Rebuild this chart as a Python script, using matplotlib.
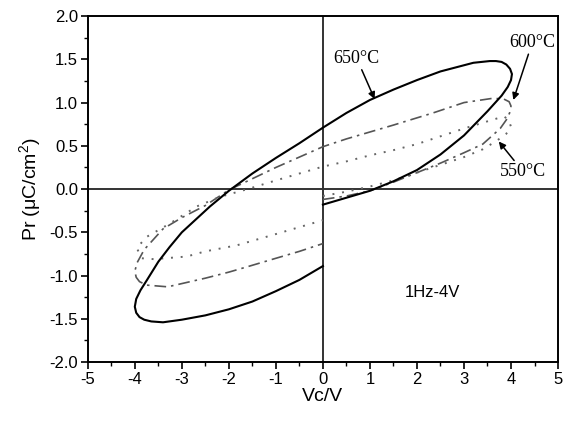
import matplotlib
matplotlib.use("Agg")
import matplotlib.pyplot as plt

# P-E loops (Vc in V, Pr in uC/cm2)
v650 = [0, 0.5, 1.0, 1.5, 2.0, 2.5, 3.0, 3.5, 3.8, 3.93, 4.0, 4.02, 3.98, 3.9, 3.8, 3.68, 3.55, 3.2, 2.5, 2.0,
        1.5, 1.0, 0.5, 0, -0.5, -1.0, -1.5, -2.0, -2.4, -3.0, -3.26, -3.5, -3.74, -3.88, -3.97, -4.0, -3.97,
        -3.9, -3.8, -3.65, -3.4, -3.0, -2.5, -2.0, -1.5, -1.0, -0.5, 0]
p650 = [-0.18, -0.1, -0.02, 0.09, 0.22, 0.40, 0.62, 0.90, 1.08, 1.18, 1.26, 1.33, 1.39, 1.44, 1.47, 1.48, 1.48,
        1.46, 1.36, 1.26, 1.15, 1.03, 0.88, 0.71, 0.53, 0.36, 0.18, -0.02, -0.20, -0.50, -0.67, -0.84, -1.05,
        -1.17, -1.27, -1.36, -1.43, -1.48, -1.51, -1.53, -1.54, -1.51, -1.46, -1.39, -1.30, -1.18, -1.05, -0.89]

v600 = [0, 0.5, 1.0, 1.5, 2.0, 2.5, 3.0, 3.4, 3.77, 3.9, 3.97, 4.0, 3.96, 3.85, 3.62, 3.0, 2.34, 1.5, 1.0, 0.5,
        0, -0.5, -1.0, -1.5, -2.0, -2.5, -3.0, -3.4, -3.8, -3.95, -4.0, -3.97, -3.9, -3.75, -3.3, -2.5, -2.0,
        -1.62, -1.0, -0.5, 0]
p600 = [-0.12, -0.08, -0.02, 0.08, 0.19, 0.30, 0.42, 0.52, 0.70, 0.80, 0.88, 0.96, 1.01, 1.04, 1.05, 1.0, 0.88,
        0.74, 0.66, 0.58, 0.49, 0.37, 0.25, 0.12, -0.01, -0.19, -0.33, -0.46, -0.70, -0.85, -0.95, -1.02,
        -1.07, -1.11, -1.13, -1.03, -0.96, -0.90, -0.80, -0.72, -0.63]

v550 = [0, 0.5, 1.0, 1.5, 2.0, 2.5, 3.0, 3.4, 3.7, 3.9, 4.0, 3.95, 3.85, 3.6, 3.0, 2.5, 2.0, 1.5, 1.0, 0.5, 0,
        -0.5, -1.0, -1.6, -2.19, -2.68, -3.26, -3.74, -3.96, -3.85, -3.6, -2.9, -2.5, -1.83, -1.0, -0.5, 0]
p550 = [-0.08, -0.03, 0.03, 0.10, 0.19, 0.28, 0.37, 0.46, 0.56, 0.64, 0.72, 0.80, 0.84, 0.80, 0.70, 0.61, 0.52,
        0.45, 0.39, 0.32, 0.26, 0.18, 0.10, 0.0, -0.09, -0.20, -0.40, -0.55, -0.68, -0.80, -0.81, -0.78, -0.72,
        -0.65, -0.52, -0.44, -0.36]


def graph():
    plt.rcParams['font.family'] = ['Liberation Sans', 'DejaVu Sans']
    fig = plt.figure(figsize=(5.7, 4.23), dpi=100)
    ax = fig.add_axes([0.154, 0.144, 0.825, 0.818])

    ax.axhline(0, color='#333333', lw=1.4, zorder=1)
    ax.axvline(0, color='#333333', lw=1.4, zorder=1)

    ax.plot(v650, p650, color='black', lw=1.5, zorder=3)
    ax.plot(v600, p600, color='#555555', lw=1.2, linestyle=(0, (7, 3, 1.5, 3)), zorder=2)
    ax.plot(v550, p550, color='#666666', lw=1.4, linestyle=(0, (1, 4)), zorder=2)

    # labels with arrows
    serif = ['Liberation Serif', 'DejaVu Serif']
    aprops = dict(arrowstyle='-|>', color='black', lw=1.1, mutation_scale=10, shrinkA=0, shrinkB=0)
    ax.annotate('650°C', xy=(1.1, 1.04), xytext=(0.72, 1.51), ha='center', va='center',
                fontsize=13, family=serif, arrowprops=aprops)
    ax.annotate('600°C', xy=(4.05, 1.03), xytext=(4.45, 1.69), ha='center', va='center',
                fontsize=13, family=serif, arrowprops=aprops)
    ax.annotate('550°C', xy=(3.74, 0.55), xytext=(4.26, 0.2), ha='center', va='center',
                fontsize=13, family=serif, arrowprops=aprops)
    ax.text(2.32, -1.19, '1Hz-4V', ha='center', va='center', fontsize=12)

    ax.set_xlim(-5, 5)
    ax.set_ylim(-2, 2)
    ax.set_xticks(range(-5, 6))
    ax.set_xticks([x + 0.5 for x in range(-5, 5)], minor=True)
    ax.set_yticks([-2.0, -1.5, -1.0, -0.5, 0.0, 0.5, 1.0, 1.5, 2.0])
    ax.set_yticks([-1.75, -1.25, -0.75, -0.25, 0.25, 0.75, 1.25, 1.75], minor=True)
    ax.set_yticklabels(['-2.0', '-1.5', '-1.0', '-0.5', '0.0', '0.5', '1.0', '1.5', '2.0'])
    ax.set_xticklabels([str(x) for x in range(-5, 6)])
    ax.tick_params(which='major', direction='out', length=5, width=1.2, labelsize=12, pad=2)
    ax.tick_params(which='minor', direction='out', length=3, width=1.0)
    for s in ax.spines.values():
        s.set_linewidth(1.4)

    ax.set_xlabel('Vc/V', fontsize=14, labelpad=1)
    ax.set_ylabel(r'Pr ($\mathregular{\mu}$C/cm$^\mathregular{2}$)', fontsize=14, labelpad=4)

    fig.savefig('out.png', dpi=100)


if __name__ == '__main__':
    graph()
